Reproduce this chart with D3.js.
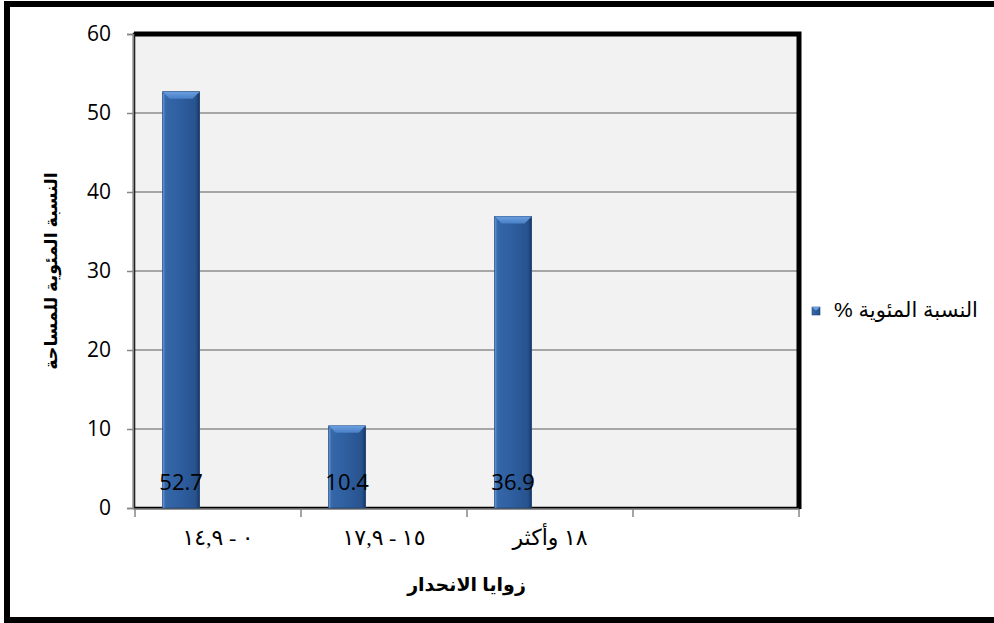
<!DOCTYPE html>
<html>
<head>
<meta charset="utf-8">
<script src="https://cdn.jsdelivr.net/npm/d3@7/dist/d3.min.js"></script>
<style>
  html, body { margin: 0; padding: 0; background: #fff; }
  svg { display: block; }
</style>
</head>
<body>
<svg id="chart" width="994" height="623"></svg>
<script>
// Slope classes (degrees) and share of area in each class
const categories = ["٠ - ١٤,٩", "١٥ - ١٧,٩", "١٨ وأكثر", ""];
const values = [52.7, 10.4, 36.9, null];
const seriesName = "النسبة المئوية %";
const yTicks = [0, 10, 20, 30, 40, 50, 60];
const xTitle = "زوايا الانحدار";
const yTitle = "النسبة المئوية للمساحة";

const svg = d3.select("#chart");
const plot = { left: 134, right: 799, top: 34, bottom: 508 };

const arabicFont = "Arial, 'Liberation Sans', 'DejaVu Sans', sans-serif";
const numFont = "'Open Sans', 'Noto Sans', sans-serif";

// Gradients for bar bodies and bevel
const defs = svg.append("defs");
const body = defs.append("linearGradient").attr("id", "barBody")
  .attr("x1", "0").attr("x2", "1").attr("y1", "0").attr("y2", "0");
body.append("stop").attr("offset", "0").attr("stop-color", "#3e71b4");
body.append("stop").attr("offset", "0.12").attr("stop-color", "#3466a8");
body.append("stop").attr("offset", "0.5").attr("stop-color", "#2e5e9e");
body.append("stop").attr("offset", "0.88").attr("stop-color", "#28538f");
body.append("stop").attr("offset", "1").attr("stop-color", "#1d4274");
const bevel = defs.append("linearGradient").attr("id", "barTop")
  .attr("x1", "0").attr("x2", "0").attr("y1", "0").attr("y2", "1");
bevel.append("stop").attr("offset", "0").attr("stop-color", "#6a9ee0");
bevel.append("stop").attr("offset", "1").attr("stop-color", "#4a80c6");

// Outer frame
svg.append("rect")
  .attr("x", 7).attr("y", 4).attr("width", 1000).attr("height", 616)
  .attr("fill", "#fff").attr("stroke", "#000").attr("stroke-width", 6);

// Scales
const x = d3.scaleBand().domain(categories.map((c, i) => i))
  .range([plot.left + 1, plot.right]).paddingInner(0).paddingOuter(0);
const y = d3.scaleLinear().domain([0, 60]).range([plot.bottom, plot.top]);

// Plot area
svg.append("rect")
  .attr("x", plot.left).attr("y", plot.top)
  .attr("width", plot.right - plot.left).attr("height", plot.bottom - plot.top)
  .attr("fill", "#f2f2f2");

// Horizontal gridlines
svg.append("g").selectAll("line").data(yTicks.filter(t => t > 0)).join("line")
  .attr("x1", plot.left).attr("x2", plot.right)
  .attr("y1", d => y(d)).attr("y2", d => y(d))
  .attr("stroke", "#8c8c8c").attr("stroke-width", 1.5);

// Plot area border: heavy top/right, lighter left/bottom
svg.append("rect")
  .attr("x", plot.left).attr("y", plot.top)
  .attr("width", plot.right - plot.left).attr("height", plot.bottom - plot.top)
  .attr("fill", "none").attr("stroke", "#000").attr("stroke-width", 2.5);
svg.append("path")
  .attr("d", `M${plot.left},${plot.top} H${plot.right} V${plot.bottom + 1}`)
  .attr("fill", "none").attr("stroke", "#000").attr("stroke-width", 5);

// Y axis
const yAxis = d3.axisLeft(y).tickValues(yTicks).tickSize(6).tickPadding(16);
const gy = svg.append("g").attr("transform", `translate(${plot.left - 1},0)`).call(yAxis);
gy.select(".domain").attr("stroke", "#868686").attr("stroke-width", 1.5);
gy.selectAll(".tick line").attr("stroke", "#868686").attr("stroke-width", 1.5);
gy.selectAll(".tick text")
  .attr("font-family", numFont).attr("font-size", 21).attr("fill", "#000");

// X axis: ticks between categories
const bounds = categories.map((c, i) => x(i)).concat([x(categories.length - 1) + x.bandwidth()]);
svg.append("line")
  .attr("x1", plot.left).attr("x2", plot.right)
  .attr("y1", plot.bottom + 1).attr("y2", plot.bottom + 1)
  .attr("stroke", "#868686").attr("stroke-width", 1.5);
svg.append("g").selectAll("line").data(bounds).join("line")
  .attr("x1", d => d).attr("x2", d => d)
  .attr("y1", plot.bottom + 1).attr("y2", plot.bottom + 9)
  .attr("stroke", "#868686").attr("stroke-width", 1.5);
svg.append("g").selectAll("text").data(categories).join("text")
  .attr("x", (d, i) => x(i) + x.bandwidth() / 2)
  .attr("y", 545)
  .attr("direction", "rtl")
  .attr("text-anchor", "middle")
  .attr("font-family", "'Liberation Serif', 'DejaVu Sans', serif")
  .attr("font-size", 22).attr("letter-spacing", 1.5).attr("fill", "#000")
  .text(d => d);

// Bars: first of three slots within each category
const barW = x.bandwidth() / 4.5;
const barX = i => x(i) + barW * 0.75;
const bars = svg.append("g").selectAll("g")
  .data(values.map((v, i) => ({ v, i })).filter(d => d.v != null))
  .join("g");
bars.append("rect")
  .attr("x", d => barX(d.i)).attr("y", d => y(d.v))
  .attr("width", barW).attr("height", d => y(0) - y(d.v))
  .attr("fill", "url(#barBody)").attr("stroke", "#1f4677").attr("stroke-width", 0.8);
// top bevel
bars.append("path")
  .attr("d", d => {
    const x0 = barX(d.i), x1 = x0 + barW, t = y(d.v), b = 7;
    return `M${x0},${t} H${x1} L${x1 - b},${t + b} H${x0 + b} Z`;
  })
  .attr("fill", "url(#barTop)");
// side highlights
bars.append("line")
  .attr("x1", d => barX(d.i) + 1).attr("x2", d => barX(d.i) + 1)
  .attr("y1", d => y(d.v) + 2).attr("y2", y(0))
  .attr("stroke", "#5a8bcc").attr("stroke-width", 1.5);
bars.append("line")
  .attr("x1", d => barX(d.i) + barW - 1).attr("x2", d => barX(d.i) + barW - 1)
  .attr("y1", d => y(d.v) + 2).attr("y2", y(0))
  .attr("stroke", "#1a3d6c").attr("stroke-width", 1.5);

// Value labels near the base of each bar
bars.append("text")
  .attr("x", d => barX(d.i) + barW / 2)
  .attr("y", 490)
  .attr("text-anchor", "middle")
  .attr("font-family", numFont).attr("font-size", 22).attr("fill", "#000")
  .text(d => d.v.toFixed(1));

// Axis titles
svg.append("text")
  .attr("x", (plot.left + plot.right) / 2).attr("y", 591)
  .attr("direction", "rtl").attr("text-anchor", "middle")
  .attr("font-family", arabicFont).attr("font-weight", "bold").attr("font-size", 19)
  .attr("fill", "#000").text(xTitle);
svg.append("text")
  .attr("transform", `translate(57,${(plot.top + plot.bottom) / 2}) rotate(-90)`)
  .attr("direction", "rtl").attr("text-anchor", "middle")
  .attr("font-family", arabicFont).attr("font-weight", "bold").attr("font-size", 17.5)
  .attr("fill", "#000").text(yTitle);

// Legend
const lg = svg.append("g").attr("transform", "translate(812,307)");
lg.append("rect").attr("width", 8).attr("height", 8)
  .attr("fill", "url(#barBody)").attr("stroke", "#1f4677").attr("stroke-width", 0.6);
lg.append("path").attr("d", "M0,0 H8 L5,3 H3 Z").attr("fill", "#6a9ee0");
lg.append("text")
  .attr("x", 906 - 812).attr("y", 10)
  .attr("direction", "rtl").attr("text-anchor", "middle")
  .attr("font-family", arabicFont).attr("font-size", 21).attr("fill", "#000")
  .text(seriesName);
</script>
</body>
</html>
